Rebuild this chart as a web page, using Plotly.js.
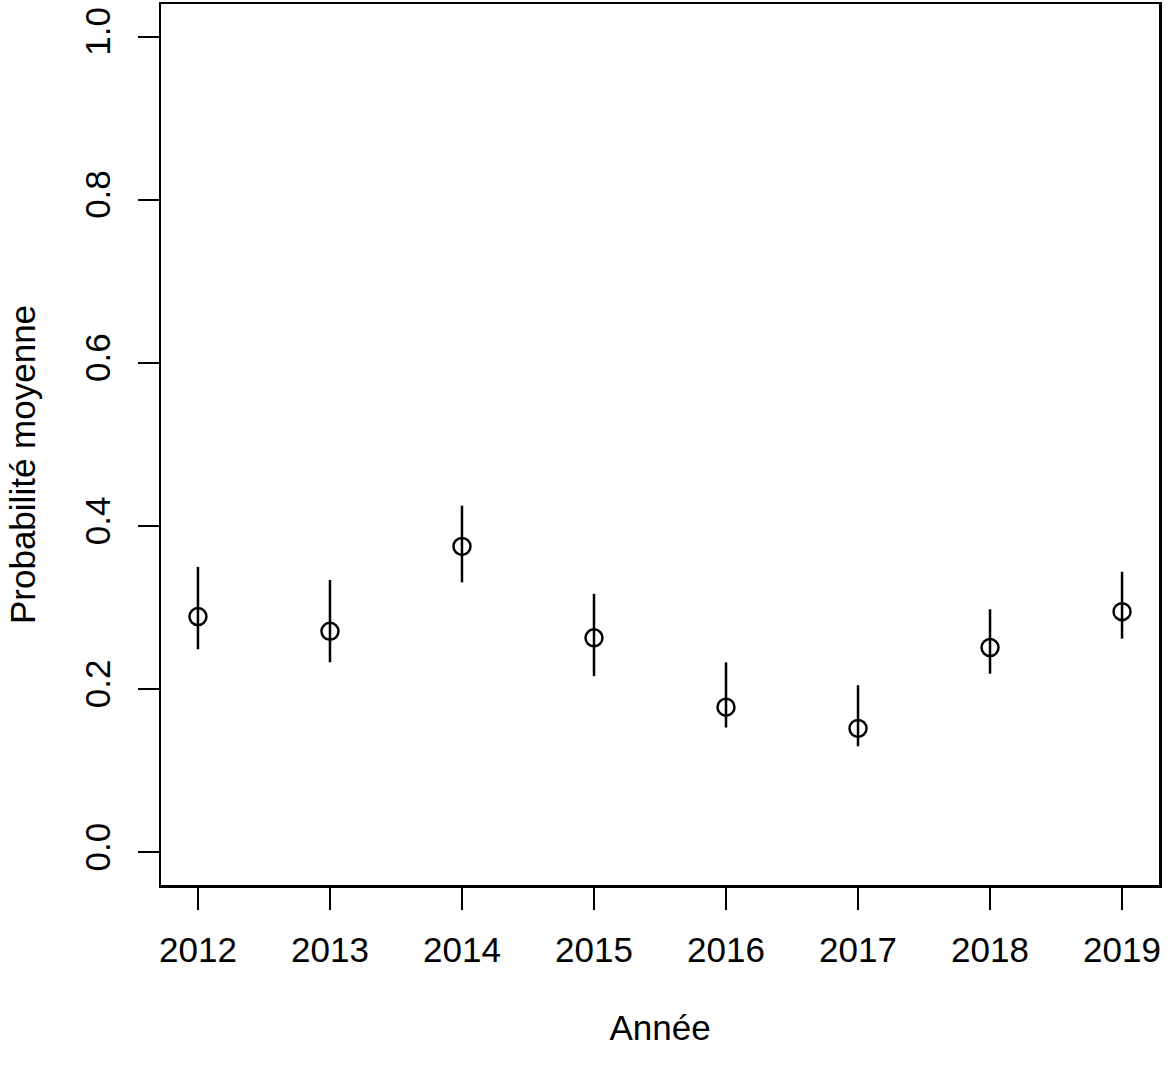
<!DOCTYPE html>
<html>
<head>
<meta charset="utf-8">
<script src="https://cdn.plot.ly/plotly-3.0.1.min.js"></script>
<style>html,body{margin:0;padding:0;background:#fff;}#chart{width:1170px;height:1070px;}</style>
</head>
<body>
<div id="chart"></div>
<script>
const years = [2012, 2013, 2014, 2015, 2016, 2017, 2018, 2019];
const meanProb = [0.289, 0.271, 0.375, 0.263, 0.178, 0.152, 0.251, 0.295];
const upperCI = [0.350, 0.334, 0.425, 0.317, 0.233, 0.205, 0.298, 0.344];
const lowerCI = [0.249, 0.233, 0.331, 0.216, 0.153, 0.130, 0.219, 0.262];
const yTicks = [0.0, 0.2, 0.4, 0.6, 0.8, 1.0];
const yTickLabels = ["0.0", "0.2", "0.4", "0.6", "0.8", "1.0"];
const xLabel = "Année";
const yLabel = "Probabilité moyenne";

const errPlus = meanProb.map((m, i) => upperCI[i] - m);
const errMinus = meanProb.map((m, i) => m - lowerCI[i]);

const font = {family: "Liberation Sans, Arial, sans-serif", size: 35, color: "#000"};

const trace = {
  x: years,
  y: meanProb,
  type: "scatter",
  mode: "markers",
  marker: {symbol: "circle-open", size: 17, color: "#000", line: {width: 2.5, color: "#000"}},
  error_y: {type: "data", symmetric: false, array: errPlus, arrayminus: errMinus,
            width: 0, thickness: 2.5, color: "#000"},
  showlegend: false,
  hoverinfo: "skip"
};

const layout = {
  width: 1170, height: 1070,
  paper_bgcolor: "#fff", plot_bgcolor: "#fff",
  margin: {l: 161, r: 11, t: 4, b: 185, pad: 0},
  font: font,
  xaxis: {
    range: [2011.72, 2019.28],
    tickmode: "array", tickvals: years, ticktext: years.map(String),
    ticks: "outside", ticklen: 22, tickwidth: 2, tickcolor: "#000",
    showline: true, mirror: true, linewidth: 2.5, linecolor: "#000",
    showgrid: false, zeroline: false,
    tickfont: font, ticklabelstandoff: 10,
    title: {text: xLabel, font: font, standoff: 48}
  },
  yaxis: {
    range: [-0.04, 1.04],
    tickmode: "array", tickvals: yTicks, ticktext: yTickLabels,
    ticks: "outside", ticklen: 21, tickwidth: 2, tickcolor: "#000",
    showline: true, mirror: true, linewidth: 2.5, linecolor: "#000",
    showgrid: false, zeroline: false,
    tickangle: -90, tickfont: font, ticklabelstandoff: 14
  },
  annotations: [{
    text: yLabel, font: font, textangle: -90,
    xref: "paper", yref: "paper", x: -0.161 + 0.0, y: 0.4767,
    xanchor: "center", yanchor: "middle", showarrow: false,
    xshift: -161 + 22 + 161 * 0 + 161 - 998 * 0.161 * 0 - 161 + 161 - 0
  }]
};
// place y-title centre at 22px from the left edge of the figure
layout.annotations[0].x = 0;
layout.annotations[0].xshift = 22 - 161;

Plotly.newPlot("chart", [trace], layout, {displayModeBar: false, staticPlot: true});
</script>
</body>
</html>
